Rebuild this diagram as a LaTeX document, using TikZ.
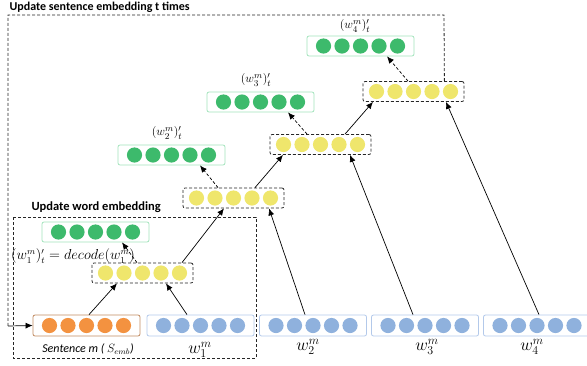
\documentclass[tikz,border=0pt]{standalone}
\usepackage{amsmath}
\usepackage{fontspec}
\setmainfont{Carlito}
\usetikzlibrary{arrows.meta}

\definecolor{dotorange}{HTML}{F39240}
\definecolor{lineorange}{HTML}{C08A60}
\definecolor{dotblue}{HTML}{8FB1DD}
\definecolor{lineblue}{HTML}{B3C9EA}
\definecolor{dotyellow}{HTML}{EFE66C}
\definecolor{dotgreen}{HTML}{3DBA6C}
\definecolor{linegreen}{HTML}{A2E3BC}

\begin{document}
\begin{tikzpicture}[x=1pt,y=-1pt,
    vec/.style={draw,rounded corners=2pt,minimum width=107pt,minimum height=21pt,
      inner sep=0pt,line width=0.8pt},
    hid/.style={draw=black!85,dash pattern=on 3pt off 2pt,rounded corners=2pt,
      minimum width=101pt,minimum height=20pt,inner sep=0pt,line width=0.8pt},
    dsh/.style={draw=black!85,dash pattern=on 3pt off 2pt,line width=0.8pt},
    arr/.style={-{Latex[length=7pt,width=6pt]},line width=0.7pt},
    darr/.style={arr,dash pattern=on 3pt off 2pt},
    lbl/.style={inner sep=1pt,font=\fontsize{13}{15}\selectfont},
    wlbl/.style={inner sep=1pt,font=\fontsize{17}{19}\selectfont}]
  \clip (0,0) rectangle (587,365);

  % input vectors
  \node[vec,draw=lineorange] (s) at (86.5,325.5) {};
  \node[vec,draw=lineblue] (w1) at (200.5,325.5) {};
  \node[vec,draw=lineblue] (w2) at (313,325.5) {};
  \node[vec,draw=lineblue] (w3) at (425,325.5) {};
  \node[vec,draw=lineblue] (w4) at (537,325.5) {};

  % hidden states
  \node[hid] (y1) at (142.5,273) {};
  \node[hid] (y2) at (233.5,198) {};
  \node[hid] (y3) at (320.5,144.5) {};
  \node[hid] (y4) at (413.5,91.5) {};

  % decoded words
  \node[vec,draw=linegreen,minimum height=20pt] (g1) at (95.5,232) {};
  \node[vec,draw=linegreen,minimum height=20pt] (g2) at (171.5,155) {};
  \node[vec,draw=linegreen,minimum height=20pt] (g3) at (260.5,102) {};
  \node[vec,draw=linegreen,minimum height=20pt] (g4) at (360.5,46) {};

  \foreach \n/\c in {s/dotorange,w1/dotblue,w2/dotblue,w3/dotblue,w4/dotblue,
      y1/dotyellow,y2/dotyellow,y3/dotyellow,y4/dotyellow,
      g1/dotgreen,g2/dotgreen,g3/dotgreen,g4/dotgreen}
    \foreach \i in {-2,...,2}
      \fill[\c] ([xshift=\i*18.5pt]\n.center) circle (7.6pt);

  % labels
  \node[anchor=west,font=\bfseries\fontsize{12}{14}\selectfont] (ttl) at (6,7)
    {Update sentence embedding t times};
  \node[anchor=west,font=\bfseries\fontsize{12.5}{14}\selectfont] (ttw) at (28,207)
    {Update word embedding};
  \node[inner sep=1pt,font=\fontsize{13.5}{15}\selectfont] (d1) at (73,256)
    {$(w_1^m)'_t = decode(w_1^m)$};
  \node[lbl] (d2) at (167,133) {$(w_2^m)'_t$};
  \node[lbl] (d3) at (256,80) {$(w_3^m)'_t$};
  \node[lbl] (d4) at (355,26) {$(w_4^m)'_t$};
  \node[inner sep=1pt,font=\fontsize{12}{14}\selectfont] (ls) at (88,349)
    {\itshape Sentence m ( $S_{emb}$)};
  \node[wlbl] (l1) at (200,350) {$w_1^m$};
  \node[wlbl] (l2) at (308,347) {$w_2^m$};
  \node[wlbl] (l3) at (427,347) {$w_3^m$};
  \node[wlbl] (l4) at (532,347) {$w_4^m$};

  % frames
  \coordinate (tr) at (444,15);
  \coordinate (tl) at (8,15);
  \coordinate (bl) at (8,326);
  \draw[dsh] ([xshift=-20pt]y4.north east) -- (tr) -- (tl) -- (bl);
  \draw[arr] (bl) -- (s.west);
  \draw[dsh] (13,217) rectangle (256,358);

  % connections
  \draw[arr] ([xshift=2.5pt]s.north) -- ([xshift=-25.5pt]y1.south);
  \draw[arr] ([xshift=-13.5pt]w1.north) -- ([xshift=23.5pt]y1.south);
  \draw[arr] ([xshift=39.5pt]y1.north) -- ([xshift=-9.5pt]y2.south);
  \draw[arr] ([xshift=-8pt]w2.north) -- ([xshift=35.5pt]y2.south);
  \draw[arr] ([xshift=21.5pt]y2.north) -- ([xshift=-37.5pt]y3.south);
  \draw[arr] ([xshift=-12pt]w3.north) -- ([xshift=29.5pt]y3.south);
  \draw[arr] ([xshift=24.5pt]y3.north) -- ([xshift=-40.5pt]y4.south);
  \draw[arr] ([xshift=2pt]w4.north) -- ([xshift=32.5pt]y4.south);
  \draw[darr] ([xshift=-5.5pt]y1.north) -- ([xshift=26.5pt]g1.south);
  \draw[darr] ([xshift=-15.5pt]y2.north) -- ([xshift=28.5pt]g2.south);
  \draw[darr] ([xshift=-13.5pt]y3.north) -- ([xshift=27.5pt]g3.south);
  \draw[darr] ([xshift=-5.5pt]y4.north) -- ([xshift=26.5pt]g4.south);
\end{tikzpicture}
\end{document}
